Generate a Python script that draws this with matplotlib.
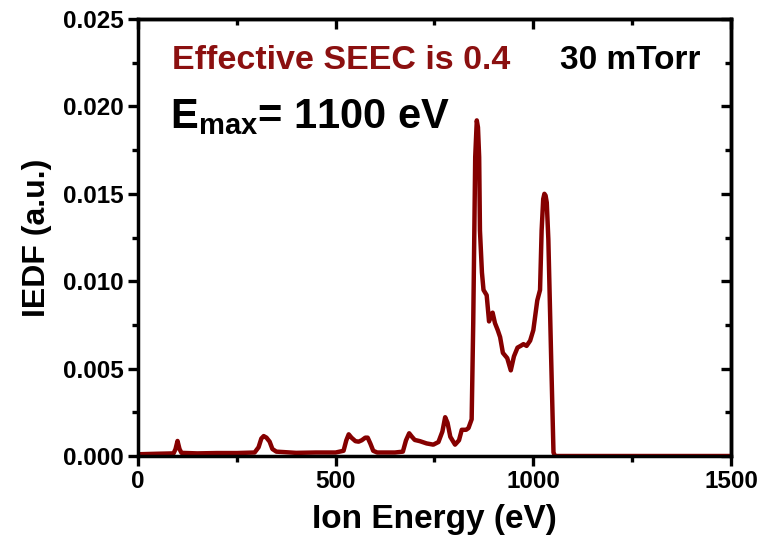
import matplotlib as mpl
mpl.use("Agg")
import matplotlib.pyplot as plt
from matplotlib.ticker import MultipleLocator

mpl.rcParams.update({
    "font.family": ["Liberation Sans", "DejaVu Sans"],
    "font.weight": "bold",
    "mathtext.fontset": "custom",
    "mathtext.rm": "Liberation Sans:bold",
    "mathtext.bf": "Liberation Sans:bold",
    "mathtext.it": "Liberation Sans:bold",
})

# ion energy (eV) and IEDF (a.u.)
energy = [0, 50, 90, 95, 100, 105, 110, 150, 200, 250, 295, 305, 312, 318,
          325, 333, 340, 350, 400, 450, 500, 520, 527, 533, 540, 550, 558,
          566, 575, 581, 588, 595, 605, 650, 670, 678, 686, 693, 700, 713,
          730, 747, 760, 770, 777, 783, 790, 802, 812, 819, 830, 836, 844,
          848, 853, 857, 860, 863, 865, 870, 874, 882, 888, 893, 897, 903,
          910, 916, 923, 934, 943, 951, 960, 968, 975, 983, 992, 1000, 1010,
          1017, 1021, 1025, 1028, 1031, 1034, 1038, 1045, 1051, 1055, 1100,
          1500]
iedf = [0.0001, 0.00013, 0.00015, 0.0004, 0.00086, 0.0004, 0.00018,
        0.00015, 0.00017, 0.00017, 0.0002, 0.0005, 0.001, 0.00114, 0.00105,
        0.00082, 0.0004, 0.00025, 0.00018, 0.0002, 0.0002, 0.0003, 0.0009,
        0.00124, 0.00105, 0.00085, 0.00082, 0.0009, 0.00105, 0.00105, 0.0007,
        0.0003, 0.0002, 0.0002, 0.00025, 0.0009, 0.0013, 0.0011, 0.00092,
        0.00085, 0.00072, 0.00065, 0.0008, 0.0014, 0.00222, 0.0019, 0.0011,
        0.00065, 0.0009, 0.0015, 0.0015, 0.0016, 0.0021, 0.0076, 0.0171,
        0.0192, 0.0188, 0.0171, 0.0129, 0.0105, 0.0095, 0.0092, 0.0077,
        0.0081, 0.0082, 0.0076, 0.0072, 0.0068, 0.0059, 0.0056, 0.0049,
        0.0057, 0.0062, 0.0063, 0.0064, 0.0063, 0.0066, 0.0072, 0.0089,
        0.0095, 0.0129, 0.0147, 0.0150, 0.0149, 0.0145, 0.0124, 0.0057,
        0.0002, 0.0, 0.0, 0.0]

line_color = "#850000"

fig = plt.figure(figsize=(7.59, 5.38), dpi=100)
ax = fig.add_axes([0.1818, 0.1524, 0.7813, 0.8123])

ax.plot(energy, iedf, color=line_color, linewidth=3.2, solid_joinstyle="round")

ax.set_xlim(0, 1500)
ax.set_ylim(0, 0.025)
ax.xaxis.set_major_locator(MultipleLocator(500))
ax.xaxis.set_minor_locator(MultipleLocator(250))
ax.yaxis.set_major_locator(MultipleLocator(0.005))
ax.yaxis.set_minor_locator(MultipleLocator(0.0025))
ax.yaxis.set_major_formatter(mpl.ticker.FormatStrFormatter("%.3f"))

for side in ax.spines.values():
    side.set_linewidth(2.5)

ax.tick_params(which="both", direction="out", width=2.4, labelsize=17.5,
               top=False, right=False)
ax.tick_params(which="major", length=7, pad=3)
ax.tick_params(which="minor", length=4.5)

# mirrored inward ticks on the top and right
top = ax.secondary_xaxis("top")
top.xaxis.set_major_locator(MultipleLocator(500))
top.xaxis.set_minor_locator(MultipleLocator(250))
top.tick_params(which="both", direction="in", width=2.4, labeltop=False)
top.tick_params(which="major", length=7)
top.tick_params(which="minor", length=4.5)
top.spines["top"].set_linewidth(2.5)
right = ax.secondary_yaxis("right")
right.yaxis.set_major_locator(MultipleLocator(0.005))
right.yaxis.set_minor_locator(MultipleLocator(0.0025))
right.tick_params(which="both", direction="in", width=2.4, labelright=False)
right.tick_params(which="major", length=7)
right.tick_params(which="minor", length=4.5)
right.spines["right"].set_linewidth(2.5)

ax.set_xlabel("Ion Energy (eV)", fontsize=24, fontweight="bold", labelpad=8)
ax.set_ylabel("IEDF (a.u.)", fontsize=23, fontweight="bold", labelpad=8)

ax.text(86, 0.02214, "Effective SEEC is 0.4", color="#8B1010", fontsize=24.5,
        fontweight="bold", va="baseline")
ax.text(1068, 0.02214, "30 mTorr", color="black", fontsize=24,
        fontweight="bold", va="baseline")
ax.text(81, 0.01876, r"$\mathbf{E_{max}}$= 1100 eV", color="black",
        fontsize=30, fontweight="bold", va="baseline")

fig.savefig("out.png", dpi=100)
